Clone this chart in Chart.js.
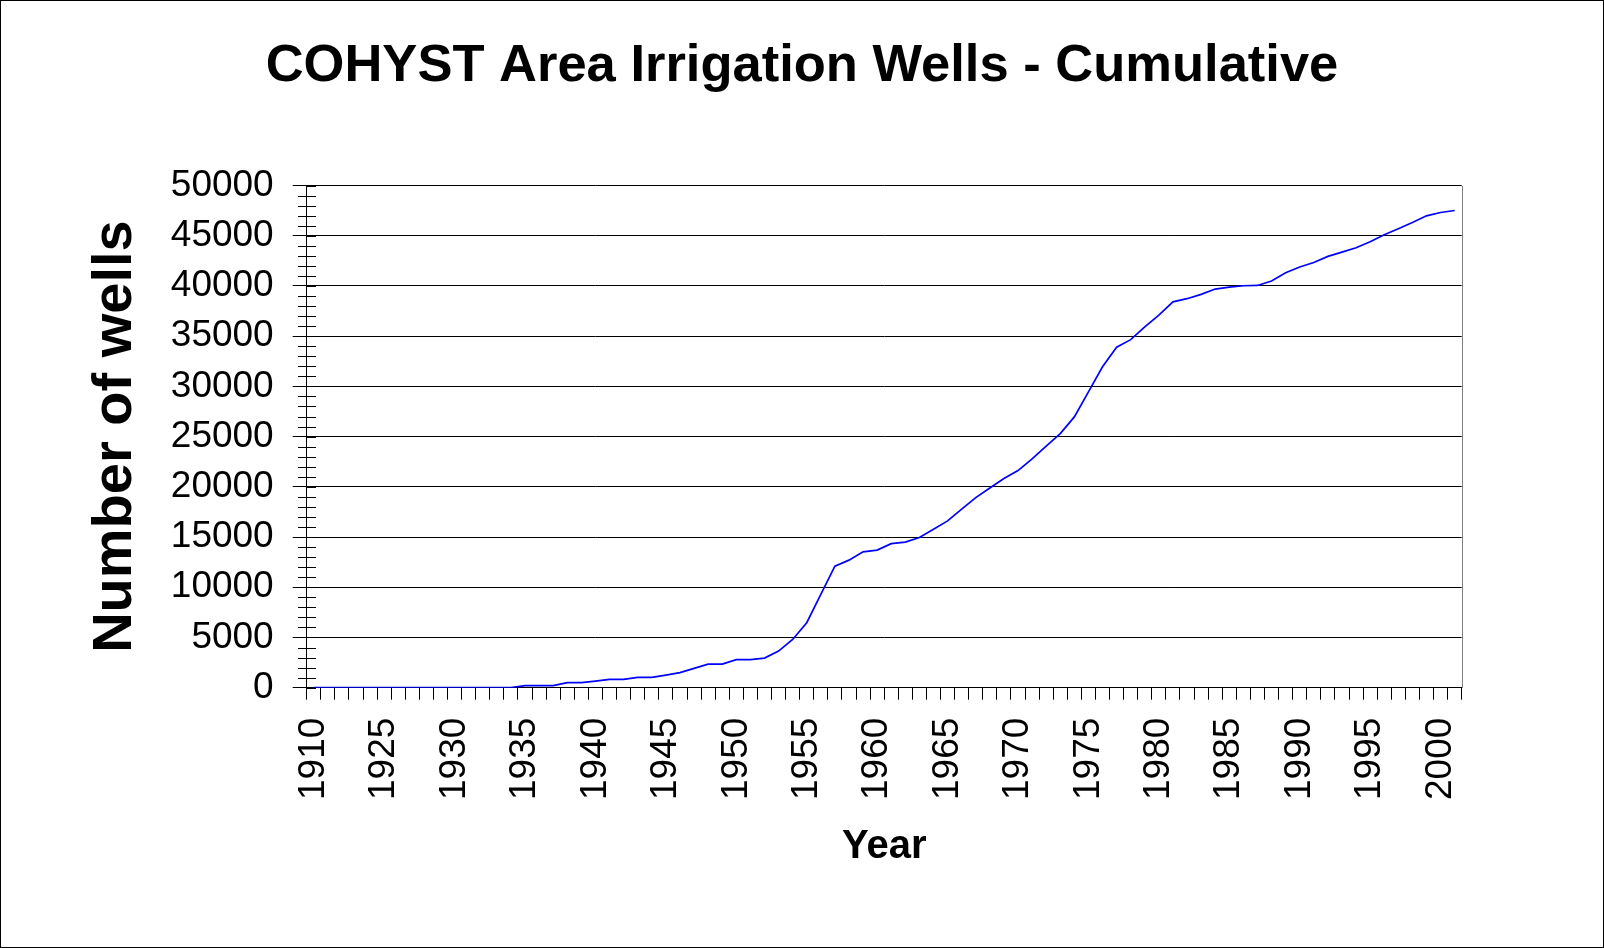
<!DOCTYPE html>
<html>
<head>
<meta charset="utf-8">
<script src="https://cdn.jsdelivr.net/npm/chart.js@4.4.1/dist/chart.umd.min.js"></script>
<style>
html,body{margin:0;padding:0;background:#fff;}
#wrap{width:1604px;height:948px;position:relative;}
canvas{display:block;}
</style>
</head>
<body>
<div id="wrap"><canvas id="c" width="1604" height="948"></canvas></div>
<script>
const chartTitle = 'COHYST Area Irrigation Wells - Cumulative';
const xTitle = 'Year';
const yTitle = 'Number of wells';

const years = [1910,
  1921,1922,1923,1924,1925,1926,1927,1928,1929,1930,
  1931,1932,1933,1934,1935,1936,1937,1938,1939,1940,
  1941,1942,1943,1944,1945,1946,1947,1948,1949,1950,
  1951,1952,1953,1954,1955,1956,1957,1958,1959,1960,
  1961,1962,1963,1964,1965,1966,1967,1968,1969,1970,
  1971,1972,1973,1974,1975,1976,1977,1978,1979,1980,
  1981,1982,1983,1984,1985,1986,1987,1988,1989,1990,
  1991,1992,1993,1994,1995,1996,1997,1998,1999,2000,
  2001];

const wells = [0,
  0,0,0,0,0,0,0,0,0,0,
  0,0,0,0,200,200,200,500,500,650,
  830,830,1030,1030,1250,1500,1930,2350,2350,2800,
  2800,2950,3650,4800,6470,9300,12100,12700,13530,13700,
  14340,14500,14960,15780,16610,17770,18930,19890,20820,21620,
  22780,24040,25300,26960,29450,31950,33900,34650,35930,37100,
  38420,38730,39160,39690,39890,40020,40050,40490,41310,41880,
  42340,42940,43370,43800,44400,45090,45690,46320,46980,47310,
  47510];

const yMin = 0, yMax = 50000, yMajorStep = 5000, yMinorStep = 1000;
const xLabelEvery = 5;

const FONT = '"Liberation Sans", Arial, Helvetica, sans-serif';

const decor = {
  id: 'decor',
  beforeDraw(chart) {
    const ctx = chart.ctx;
    ctx.save();
    ctx.fillStyle = '#fff';
    ctx.fillRect(0, 0, chart.width, chart.height);
    ctx.restore();
  },
  afterDraw(chart) {
    const {ctx, chartArea: ca, scales: {y}} = chart;
    ctx.save();
    ctx.lineWidth = 1;
    ctx.strokeStyle = '#000';
    const lx = Math.round(ca.left);
    for (let v = yMin; v <= yMax; v += yMinorStep) {
      const py = Math.round(y.getPixelForValue(v)) + 0.5;
      const major = v % yMajorStep === 0;
      ctx.beginPath();
      ctx.moveTo(major ? lx : lx - 9, py);
      ctx.lineTo(lx + 9, py);
      ctx.stroke();
    }
    ctx.strokeStyle = '#808080';
    const rx = Math.round(ca.right) + 0.5;
    ctx.beginPath();
    ctx.moveTo(rx, Math.round(ca.top));
    ctx.lineTo(rx, Math.round(ca.bottom));
    ctx.stroke();
    ctx.strokeStyle = '#000';
    ctx.strokeRect(0.5, 0.5, chart.width - 1, chart.height - 1);
    ctx.restore();
  }
};

new Chart(document.getElementById('c'), {
  type: 'line',
  data: {
    labels: years.map(String),
    datasets: [{
      data: wells,
      borderColor: '#0000FF',
      borderWidth: 1.7,
      pointRadius: 0,
      tension: 0,
      fill: false
    }]
  },
  options: {
    responsive: false,
    animation: false,
    devicePixelRatio: 1,
    layout: { padding: 0 },
    plugins: {
      legend: { display: false },
      tooltip: { enabled: false },
      title: {
        display: true,
        text: chartTitle,
        color: '#000',
        font: { family: FONT, size: 52.5, weight: 'bold', lineHeight: 1.2 },
        padding: { top: 35, bottom: 87.5 }
      }
    },
    scales: {
      x: {
        type: 'category',
        offset: true,
        afterFit(scale) { scale.height = 948 - 687.7; },
        grid: {
          offset: true,
          drawOnChartArea: false,
          drawTicks: true,
          tickLength: 12,
          color: '#000',
          lineWidth: 1
        },
        border: { display: true, color: '#000', width: 1 },
        ticks: {
          autoSkip: false,
          maxRotation: 90,
          minRotation: 90,
          padding: 18,
          color: '#000',
          font: { family: FONT, size: 37 },
          callback(value, index) {
            return index % xLabelEvery === 0 ? this.getLabelForValue(value) : '';
          }
        },
        title: {
          display: true,
          text: xTitle,
          color: '#000',
          font: { family: FONT, size: 40, weight: 'bold', lineHeight: 1.2 },
          padding: { top: 0, bottom: 77 }
        }
      },
      y: {
        min: yMin,
        max: yMax,
        afterFit(scale) { scale.width = 306.7; },
        grid: {
          drawOnChartArea: true,
          drawTicks: true,
          tickLength: 14,
          color: '#000',
          lineWidth: 1
        },
        border: { display: true, color: '#000', width: 1 },
        ticks: {
          stepSize: yMajorStep,
          padding: 19,
          color: '#000',
          font: { family: FONT, size: 37 },
          callback(v) { return String(v); }
        },
        title: {
          display: true,
          text: yTitle,
          color: '#000',
          font: { family: FONT, size: 56, weight: 'bold', lineHeight: 1.2 },
          padding: { top: 82, bottom: 0 }
        }
      },
      yRightSpace: {
        type: 'linear',
        position: 'right',
        display: true,
        afterFit(scale) { scale.width = 1604 - 1461.7; },
        grid: { display: false, drawTicks: false },
        border: { display: false },
        ticks: { display: false }
      }
    }
  },
  plugins: [decor]
});
</script>
</body>
</html>
